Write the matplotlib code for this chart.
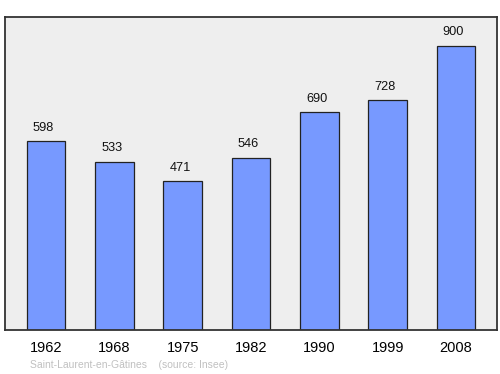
import matplotlib
matplotlib.use("Agg")
import matplotlib.pyplot as plt

years = ["1962", "1968", "1975", "1982", "1990", "1999", "2008"]
population = [598, 533, 471, 546, 690, 728, 900]

plt.rcParams['font.family'] = ['Liberation Sans', 'DejaVu Sans']

fig = plt.figure(figsize=(5.0, 3.74), dpi=100)
W, H = 500, 374
ax = fig.add_axes([5 / W, 1 - 330 / H, 492 / W, 313 / H])
ax.set_facecolor('#eeeeee')
x = list(range(len(years)))
ax.bar(x, population, width=0.57, color='#7799ff', edgecolor='#222222', linewidth=0.9, zorder=2)
for xi, v in zip(x, population):
    ax.text(xi - 0.04, v + 24, str(v), ha='center', va='bottom', fontsize=9.2, color='#111111')
ax.set_xlim(-0.6, 6.6)
ax.set_ylim(0, 992)
ax.set_xticks(x)
ax.set_xticklabels(years, fontsize=10.5)
ax.tick_params(axis='x', length=0, pad=8)
ax.set_yticks([])
for s in ax.spines.values():
    s.set_color('#333333')
    s.set_linewidth(1.3)
fig.text(30 / W, 1 - 365 / H, "Saint-Laurent-en-Gâtines    (source: Insee)", fontsize=7.5,
         color='#c0c0c0', ha='left', va='center')
fig.savefig("out.png", dpi=100)
